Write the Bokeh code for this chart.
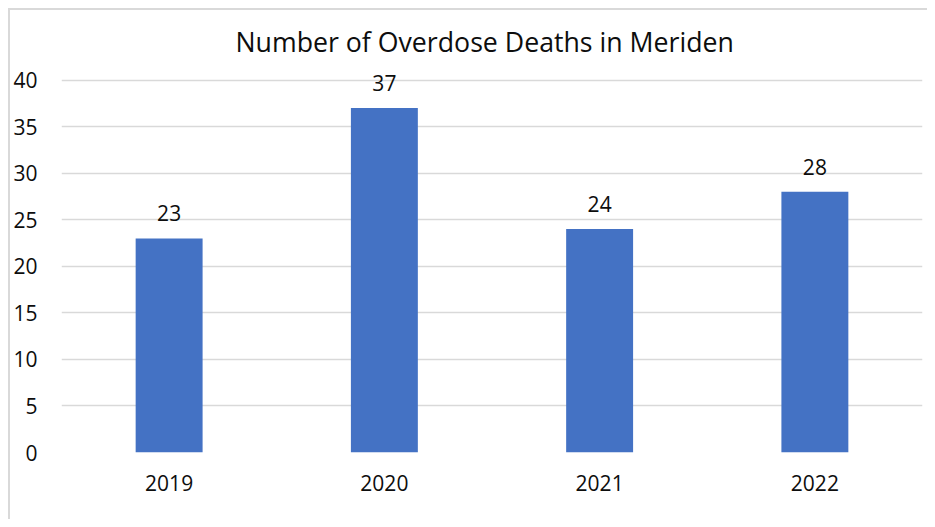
from bokeh.plotting import figure
from bokeh.models import ColumnDataSource, FixedTicker
from bokeh.core.properties import value
from bokeh.embed import file_html
from bokeh.resources import INLINE

years = ["2019", "2020", "2021", "2022"]
deaths = [23, 37, 24, 28]
y_ticks = [0, 5, 10, 15, 20, 25, 30, 35, 40]

FONT = "Open Sans"
TXT = "#0d0d0d"
EDGE = "#d9d9d9"

src = ColumnDataSource(dict(year=years, deaths=deaths, label=[str(v) for v in deaths]))

p = figure(x_range=years, y_range=(0, 42), width=927, height=519,
           output_backend="svg", toolbar_location=None,
           min_border_left=61, min_border_right=5, min_border_top=61, min_border_bottom=67)

# chart-area border (top and left edges, as in the reference) drawn as host background
p.styles = {
    "background": (f"linear-gradient({EDGE},{EDGE}) 8px 8px / 2px 100% no-repeat, "
                   f"linear-gradient({EDGE},{EDGE}) 8px 8px / 100% 2px no-repeat, white"),
}

p.vbar(x="year", top="deaths", width=0.311, source=src, color="#4472C4", line_color=None)
p.text(x="year", y="deaths", text="label", source=src, y_offset=-25,
       text_align="center", text_baseline="alphabetic",
       text_font=value(FONT), text_font_size="21px", text_color=TXT)

p.title.text = "Number of Overdose Deaths in Meriden"
p.title.align = "left"
p.title.offset = 174
p.title.text_font = FONT
p.title.text_font_size = "26.7px"
p.title.text_font_style = "normal"
p.title.text_color = TXT
p.title.standoff = 3

p.yaxis.ticker = FixedTicker(ticks=y_ticks)
p.ygrid.ticker = FixedTicker(ticks=y_ticks)
for ax in (p.xaxis, p.yaxis):
    ax.axis_line_color = None
    ax.major_tick_line_color = None
    ax.minor_tick_line_color = None
    ax.major_label_text_font = FONT
    ax.major_label_text_font_size = "21px"
    ax.major_label_text_color = TXT
p.yaxis.major_label_standoff = 18
p.xaxis.major_label_standoff = 16

p.xgrid.grid_line_color = None
p.ygrid.grid_line_color = EDGE
p.ygrid.grid_line_width = 1.5
p.outline_line_color = None
p.background_fill_color = "white"
p.border_fill_color = None

open("out.html", "w").write(file_html(p, INLINE))
